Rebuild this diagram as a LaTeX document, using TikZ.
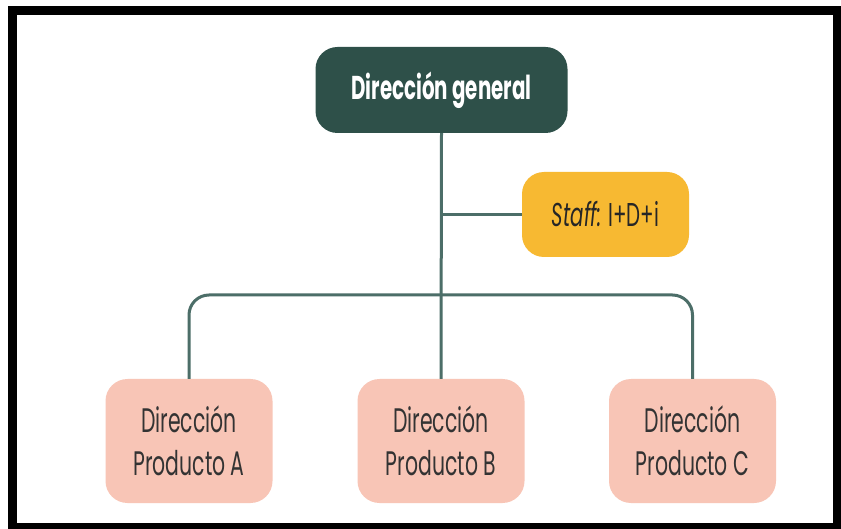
\documentclass[tikz,border=0pt]{standalone}
\usepackage{fontspec}
\setmainfont{Poppins}[FakeStretch=0.6]
\definecolor{boardgreen}{HTML}{2E5049}
\definecolor{staffgold}{HTML}{F7B932}
\definecolor{unitpink}{HTML}{F8C5B6}
\definecolor{linkgray}{HTML}{4C6E68}
\definecolor{inktext}{HTML}{333333}
\begin{document}
\begin{tikzpicture}[x=1pt,y=-1pt,
  box/.style={rounded corners=22pt, align=center, inner sep=0pt},
  topbox/.style={box, fill=boardgreen, text=white, minimum width=252pt, minimum height=86pt, font=\fontsize{33}{38}\selectfont\bfseries},
  staffbox/.style={box, fill=staffgold, text=black!85, minimum width=167pt, minimum height=85pt, font=\fontsize{33}{38}\selectfont},
  unitbox/.style={box, fill=unitpink, text=inktext, minimum width=167pt, minimum height=124pt, font=\fontsize{34}{43}\selectfont},
  link/.style={draw=linkgray, line width=3pt}]
\useasboundingbox (0,0) rectangle (841,529);
\fill[white] (0,0) rectangle (841,529);
\draw[line width=9pt, black] (12.5,11) rectangle (837.5,527.5);

\node[topbox] (dg) at (441.5,90) {Dirección general};
\node[staffbox] (staff) at (605.5,214.5) {\textit{Staff:} I+D+i};
\node[unitbox] (pa) at (189,441) {Dirección\\Producto A};
\node[unitbox] (pb) at (441,441) {Dirección\\Producto B};
\node[unitbox] (pc) at (692.5,441) {Dirección\\Producto C};

\coordinate (bus) at (441,295);
\draw[link] (dg.south) -- (pb.north);
\draw[link] (dg.south |- staff.west) -- (staff.west);
\draw[link, rounded corners=20pt] (pa.north) -- (pa.north |- bus) -- (pc.north |- bus) -- (pc.north);
\end{tikzpicture}
\end{document}
